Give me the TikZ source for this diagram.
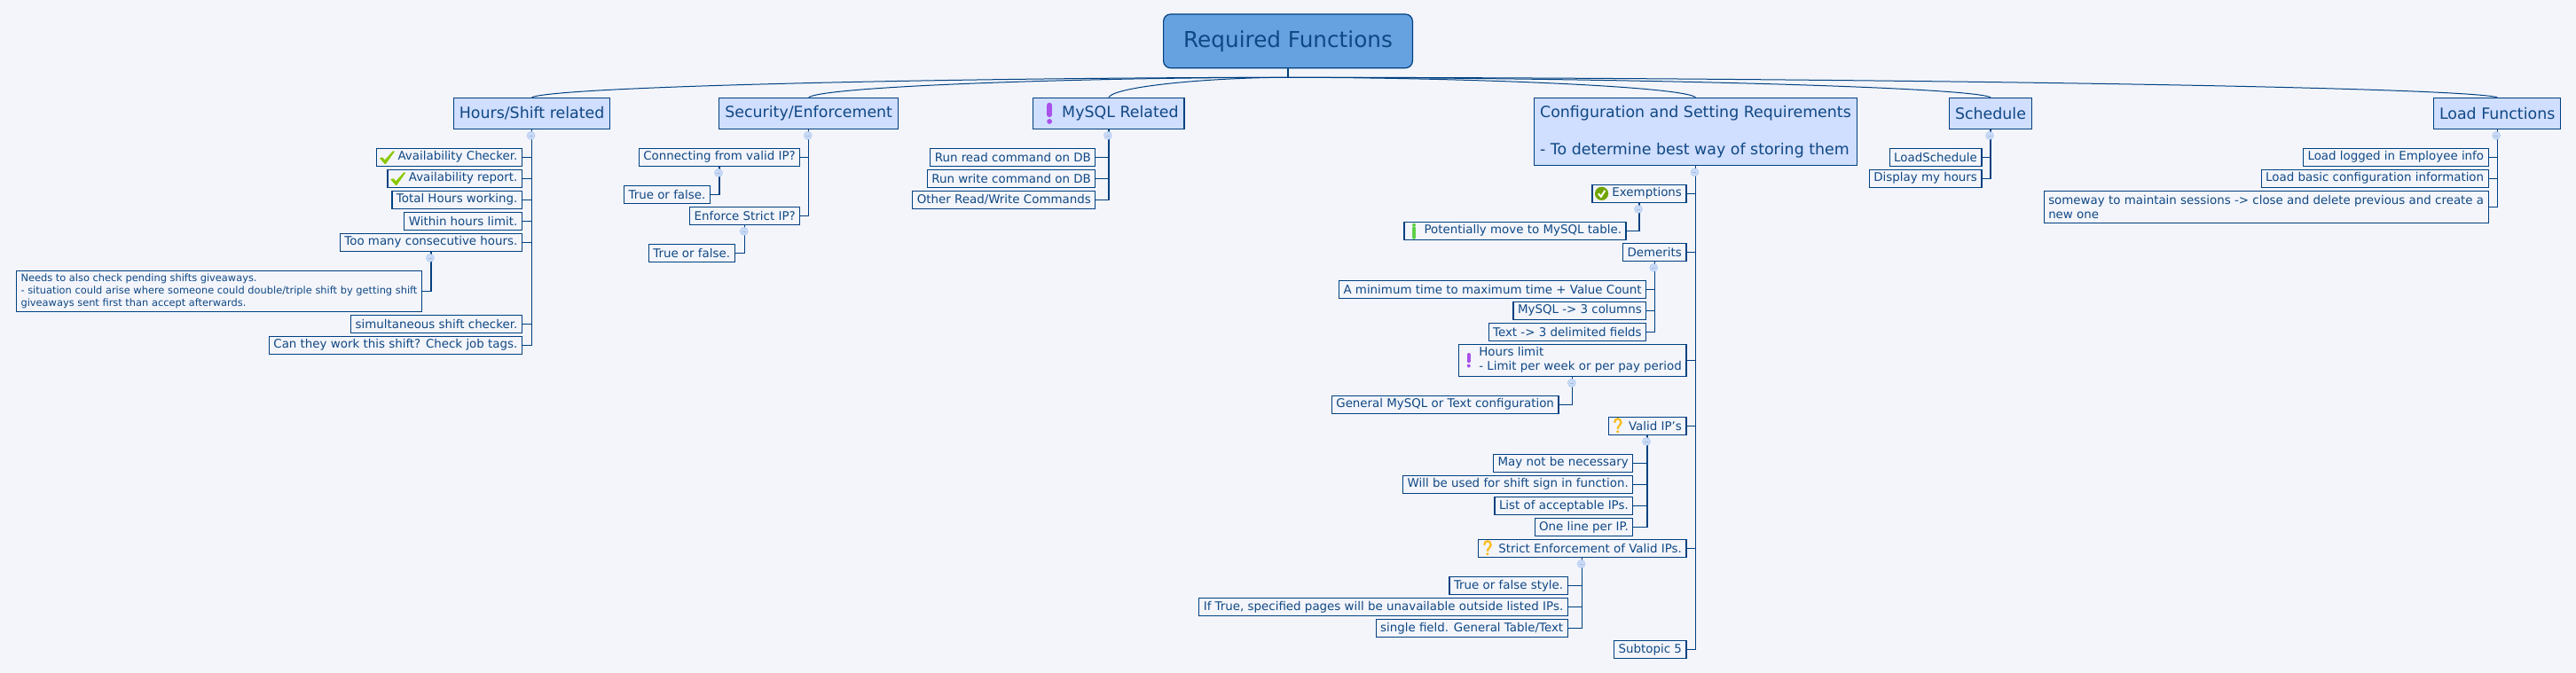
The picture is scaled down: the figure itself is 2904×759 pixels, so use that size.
\documentclass[tikz,border=0pt]{standalone}
\usepackage{xcolor}
\definecolor{pagebg}{RGB}{243,245,251}
\definecolor{mapblue}{RGB}{0,64,128}
\definecolor{inkblue}{RGB}{16,72,132}
\definecolor{rootblue}{RGB}{102,161,224}
\definecolor{branchblue}{RGB}{208,222,255}
\definecolor{btnblue}{RGB}{200,218,248}
\definecolor{tickgreen}{RGB}{140,200,0}
\definecolor{okgreen}{RGB}{112,164,0}
\definecolor{infogreen}{RGB}{96,208,72}
\definecolor{bangpurple}{RGB}{170,80,235}
\definecolor{askorange}{RGB}{250,190,40}
\usepackage{fontspec}
\setmainfont{DejaVu Sans}
\usepackage{tikz}
\usetikzlibrary{calc}

\tikzset{
  root/.style={draw=mapblue, fill=rootblue, text=inkblue, line width=1.2pt, rounded corners=8pt,
    minimum width=280.8pt, minimum height=60.7pt, font=\fontsize{24.7}{30}\selectfont},
  topic/.style={draw=mapblue, fill=branchblue, text=inkblue, line width=1.2pt, inner xsep=6.5pt,
    inner ysep=0pt, minimum height=35pt, align=left, font=\fontsize{17.4}{20.8}\selectfont},
  leaf/.style={draw=mapblue, fill=pagebg, text=inkblue, line width=1.2pt, inner xsep=5pt,
    inner ysep=0pt, minimum height=20pt, align=left, anchor=east, font=\fontsize{13.4}{15.5}\selectfont},
  small leaf/.style={leaf, font=\fontsize{11.4}{14}\selectfont},
  link/.style={draw=mapblue, line width=1.2pt},
  branch/.style={draw=mapblue, line width=1pt},
  btn/.style={circle, draw=btnblue!90!mapblue, fill=btnblue, line width=0.6pt, inner sep=0pt, minimum size=9pt,
    path picture={\draw[mapblue!35, line width=0.7pt] (-2,0) -- (2,0);}}
}

% small pictures in front of the labels
\newcommand{\tickicon}[1]{
  \fill[tickgreen, shift={(#1)}] (4,1) -- (7,0) -- (10,3) -- (19,-7) -- (21,-6.5) -- (11,7.5) -- (9.5,7.5) -- cycle;
}
\newcommand{\okicon}[1]{
  \fill[okgreen, shift={(#1)}] (11.2,0) circle (7.6);
  \draw[white, line width=2pt, shift={(#1)}] (7.5,0) -- (10.5,3.5) -- (15,-3.5);
}
\newcommand{\infoicon}[1]{
  \draw[infogreen, line width=4pt, line cap=round, shift={(#1)}] (11.6,-3) -- (11.6,7.5);
  \fill[infogreen, shift={(#1)}] (11.6,-6.5) circle (2);
}
\newcommand{\bangicon}[3]{
  \draw[bangpurple, line width=#3*4pt, line cap=round, shift={(#1)}] (#2,-6.3*#3) -- (#2,#3);
  \fill[bangpurple, shift={(#1)}] (#2,6.3*#3) circle (2*#3);
}
\newcommand{\askicon}[1]{
  \draw[askorange, line width=2.4pt, shift={(#1)}] (7.5,-3.5) .. controls (7.5,-9.5) and (15,-9.5) .. (15,-3.5)
    .. controls (15,0) and (11.2,-0.5) .. (11.2,3.5);
  \fill[askorange, shift={(#1)}] (11.2,6.5) circle (1.8);
}

\begin{document}
\begin{tikzpicture}[x=1pt, y=-1pt]
  \fill[pagebg] (0,0) rectangle (2904,759);
  \useasboundingbox (0,0) rectangle (2904,759);

  \node[root] (root) at (1452,46.35) {Required Functions};
  \coordinate (hub) at ($(root.south)+(0,10)$);

  \node[topic] (hours) at (599.6,127.8) {Hours/Shift related};
  \node[topic] (security) at (911.7,127.8) {Security/Enforcement};
  \node[topic] (mysql) at (1249.9,127.8) {\hspace*{26pt}MySQL Related};
  \node[topic, minimum height=76.4pt] (config) at (1911.45,148.5) {Configuration and Setting Requirements\\[20.8pt]- To determine best way of storing them};
  \node[topic] (schedule) at (2244,127.8) {Schedule};
  \node[topic] (loadfn) at (2815.15,127.8) {Load Functions};

  \node[leaf] (availcheck) at (589,177.3) {\hspace*{19pt}Availability Checker.};
  \node[leaf] (availreport) at (589,201.3) {\hspace*{19pt}Availability report.};
  \node[leaf] (totalhours) at (589,225.3) {Total Hours working.};
  \node[leaf] (withinlimit) at (589,249.3) {Within hours limit.};
  \node[leaf] (toomany) at (589,273.3) {Too many consecutive hours.};
  \node[small leaf, minimum height=46pt] (giveaways) at (476,328.3) {Needs to also check pending shifts giveaways.\\- situation could arise where someone could double/triple shift by getting shift\\giveaways sent first than accept afterwards.};
  \node[leaf] (simultaneous) at (589,365.3) {simultaneous shift checker.};
  \node[leaf] (jobtags) at (589,389.3) {Can they work this shift? Check job tags.};

  \node[leaf] (validip) at (902.3,177.3) {Connecting from valid IP?};
  \node[leaf] (validtrue) at (801,219.3) {True or false.};
  \node[leaf] (strictip) at (902.3,243.3) {Enforce Strict IP?};
  \node[leaf] (stricttrue) at (828.7,285.3) {True or false.};

  \node[leaf] (dbread) at (1235.4,177.3) {Run read command on DB};
  \node[leaf] (dbwrite) at (1235.4,201.3) {Run write command on DB};
  \node[leaf] (dbother) at (1235.4,225.3) {Other Read/Write Commands};

  \node[leaf] (exemptions) at (1901.5,218.3) {\hspace*{17.5pt}Exemptions};
  \node[leaf] (movetable) at (1833.6,260.3) {\hspace*{17.5pt}Potentially move to MySQL table.};
  \node[leaf] (demerits) at (1901.5,284.3) {Demerits};
  \node[leaf] (mintime) at (1856.3,326.7) {A minimum time to maximum time + Value Count};
  \node[leaf] (mysqlcols) at (1856.3,350.3) {MySQL -> 3 columns};
  \node[leaf] (textfields) at (1856.3,374.3) {Text -> 3 delimited fields};
  \node[leaf, minimum height=36pt] (hourslimit) at (1901.5,406.3) {\hspace*{17.5pt}\begin{tabular}{@{}l@{}}Hours limit\\- Limit per week or per pay period\end{tabular}};
  \node[leaf] (generalcfg) at (1757.5,456.3) {General MySQL or Text configuration};
  \node[leaf] (validips) at (1901.5,480.3) {\hspace*{18pt}Valid IP's};
  \node[leaf] (maynot) at (1841.4,522.3) {May not be necessary};
  \node[leaf] (signin) at (1841.4,546.3) {Will be used for shift sign in function.};
  \node[leaf] (iplist) at (1841.4,570.3) {List of acceptable IPs.};
  \node[leaf] (oneline) at (1841.4,594.3) {One line per IP.};
  \node[leaf] (strictvalid) at (1901.5,618.3) {\hspace*{18pt}Strict Enforcement of Valid IPs.};
  \node[leaf] (truestyle) at (1767.8,660.3) {True or false style.};
  \node[leaf] (outsideips) at (1767.8,684.3) {If True, specified pages will be unavailable outside listed IPs.};
  \node[leaf] (singlefield) at (1767.8,708.3) {single field. General Table/Text};
  \node[leaf] (subtopic) at (1901.5,732.3) {Subtopic 5};

  \node[leaf] (loadsched) at (2234.5,177.3) {LoadSchedule};
  \node[leaf] (myhours) at (2234.5,201.3) {Display my hours};

  \node[leaf] (employee) at (2805.7,177.3) {Load logged in Employee info};
  \node[leaf] (basiccfg) at (2805.7,201.3) {Load basic configuration information};
  \node[leaf, minimum height=36pt] (sessions) at (2805.7,233.3) {someway to maintain sessions -> close and delete previous and create a\\new one};

  \draw[link] (root.south) -- (hub);
  \foreach \b in {hours,security,mysql,config,schedule,loadfn}
    \draw[branch] (hub) .. controls ($(hub)!0.4!(\b.north |- hub)$) and ($(\b.north)!0.04!(hub |- \b.north)+(0,-13)$) .. (\b.north);

  \foreach \p/\c in {hours/availcheck, hours/availreport, hours/totalhours, hours/withinlimit, hours/toomany,
      toomany/giveaways, hours/simultaneous, hours/jobtags,
      security/validip, validip/validtrue, security/strictip, strictip/stricttrue,
      mysql/dbread, mysql/dbwrite, mysql/dbother,
      config/exemptions, exemptions/movetable, config/demerits, demerits/mintime, demerits/mysqlcols, demerits/textfields,
      config/hourslimit, hourslimit/generalcfg, config/validips, validips/maynot, validips/signin, validips/iplist, validips/oneline,
      config/strictvalid, strictvalid/truestyle, strictvalid/outsideips, strictvalid/singlefield, config/subtopic,
      schedule/loadsched, schedule/myhours, loadfn/employee, loadfn/basiccfg, loadfn/sessions}
    \draw[link] (\p.south) |- (\c.east);

  \foreach \p in {hours,security,mysql,config,schedule,loadfn,toomany,validip,strictip,exemptions,demerits,hourslimit,validips,strictvalid}
    \node[btn] (btn\p) at ($(\p.south)+(-1,7)$) {};

  \tickicon{availcheck.west}
  \tickicon{availreport.west}
  \bangicon{mysql.west}{19}{1.45}
  \okicon{exemptions.west}
  \infoicon{movetable.west}
  \bangicon{hourslimit.west}{11.6}{1}
  \askicon{validips.west}
  \askicon{strictvalid.west}
\end{tikzpicture}
\end{document}
